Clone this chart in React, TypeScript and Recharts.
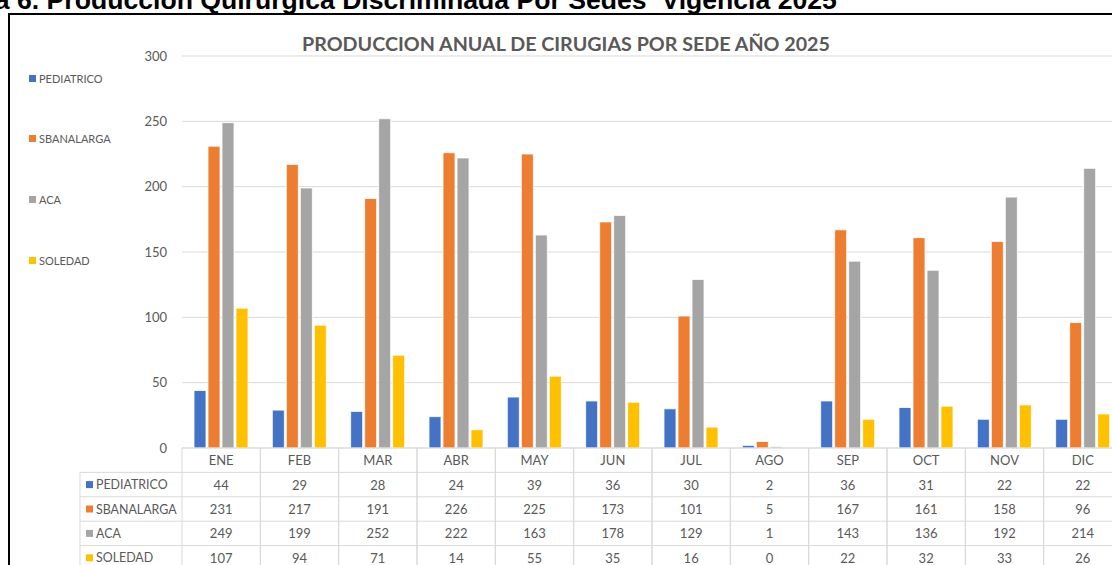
import React from "react";
import { BarChart, Bar, XAxis, YAxis, CartesianGrid } from "recharts";

const months = ["ENE", "FEB", "MAR", "ABR", "MAY", "JUN", "JUL", "AGO", "SEP", "OCT", "NOV", "DIC"];
const pediatrico = [44, 29, 28, 24, 39, 36, 30, 2, 36, 31, 22, 22];
const sbanalarga = [231, 217, 191, 226, 225, 173, 101, 5, 167, 161, 158, 96];
const aca = [249, 199, 252, 222, 163, 178, 129, 1, 143, 136, 192, 214];
const soledad = [107, 94, 71, 14, 55, 35, 16, 0, 22, 32, 33, 26];
const yTicks = [0, 50, 100, 150, 200, 250, 300];

const series = [
  { key: "PEDIATRICO", values: pediatrico, color: "#4472C4" },
  { key: "SBANALARGA", values: sbanalarga, color: "#ED7D31" },
  { key: "ACA", values: aca, color: "#A5A5A5" },
  { key: "SOLEDAD", values: soledad, color: "#FFC000" },
];

const data = months.map((mes, i) => {
  const row: Record<string, string | number> = { mes };
  series.forEach((s) => (row[s.key] = s.values[i]));
  return row;
});

const FONT = "Lato, 'Open Sans', sans-serif";
const TEXT = "#595959";
const LINE = "#d9d9d9";

// chart geometry
const W = 1200;
const H = 600;
const PLOT_LEFT = 182;
const PLOT_RIGHT = 1122;
const COL_W = (PLOT_RIGHT - PLOT_LEFT) / months.length;
const ROW_H = 24.4;
const HEAD_LEFT = 80;

function TableTick(props: any) {
  const { x, y, payload, index } = props;
  const left = x - COL_W / 2;
  const right = x + COL_W / 2;
  const bottom = y + ROW_H * 5;
  return (
    <g>
      <line x1={left} y1={y} x2={left} y2={bottom} stroke={LINE} />
      <line x1={right} y1={y} x2={right} y2={bottom} stroke={LINE} />
      {[1, 2, 3, 4, 5].map((r) => (
        <line key={r} x1={left} y1={y + ROW_H * r} x2={right} y2={y + ROW_H * r} stroke={LINE} />
      ))}
      <text x={x} y={y + ROW_H / 2} textAnchor="middle" dominantBaseline="central" fill={TEXT} fontSize={13} fontFamily={FONT}>
        {payload.value}
      </text>
      {series.map((s, r) => (
        <text key={s.key} x={x} y={y + ROW_H * (r + 1.5)} textAnchor="middle" dominantBaseline="central" fill={TEXT} fontSize={13} fontFamily={FONT}>
          {s.values[index]}
        </text>
      ))}
      {index === 0 && (
        <g>
          <line x1={HEAD_LEFT} y1={y + ROW_H} x2={HEAD_LEFT} y2={bottom} stroke={LINE} />
          {[1, 2, 3, 4, 5].map((r) => (
            <line key={r} x1={HEAD_LEFT} y1={y + ROW_H * r} x2={left} y2={y + ROW_H * r} stroke={LINE} />
          ))}
          {series.map((s, r) => (
            <g key={s.key}>
              <rect x={HEAD_LEFT + 6} y={y + ROW_H * (r + 1.5) - 3.5} width={7} height={7} fill={s.color} />
              <text x={HEAD_LEFT + 16} y={y + ROW_H * (r + 1.5)} dominantBaseline="central" fill={TEXT} fontSize={12.4} fontFamily={FONT}>
                {s.key}
              </text>
            </g>
          ))}
        </g>
      )}
    </g>
  );
}

function SideLegend() {
  return (
    <div style={{ position: "absolute", left: 29, top: 70, width: 120, height: 260 }}>
      {series.map((s, i) => (
        <div
          key={s.key}
          style={{
            position: "absolute",
            left: 0,
            top: i * 60.7,
            display: "flex",
            alignItems: "center",
            height: 16,
            fontFamily: FONT,
            fontSize: 11,
            color: TEXT,
            whiteSpace: "nowrap",
          }}
        >
          <span style={{ width: 7, height: 7, background: s.color, marginRight: 3 }} />
          {s.key}
        </div>
      ))}
    </div>
  );
}

export default function App() {
  return (
    <div style={{ position: "fixed", left: 0, top: 0, width: 1112, height: 565, overflow: "hidden", background: "#fff" }}>
      <div
        style={{
          position: "absolute",
          left: -82,
          top: -15,
          fontFamily: "'Liberation Sans', Arial, sans-serif",
          fontWeight: "bold",
          fontSize: 26.6,
          color: "#000",
          whiteSpace: "pre",
          lineHeight: "30px",
        }}
      >
        Gráfica 6. Producción Quirúrgica Discriminada Por Sedes  Vigencia 2025
      </div>
      <div style={{ position: "absolute", left: 8, top: 13, width: 1300, height: 700, border: "2px solid #000" }} />
      <div
        style={{
          position: "absolute",
          left: 0,
          width: 1132,
          top: 32,
          textAlign: "center",
          fontFamily: FONT,
          fontWeight: "bold",
          fontSize: 19.7,
          color: TEXT,
        }}
      >
        PRODUCCION ANUAL DE CIRUGIAS POR SEDE AÑO 2025
      </div>
      <SideLegend />
      <div style={{ position: "absolute", left: 0, top: 0 }}>
        <BarChart
          width={W}
          height={H}
          data={data}
          margin={{ top: 56, right: W - PLOT_RIGHT, left: 0, bottom: 37 }}
          barCategoryGap={12}
          barGap={2}
        >
          <CartesianGrid vertical={false} stroke={LINE} strokeWidth={1} />
          <YAxis
            width={PLOT_LEFT}
            domain={[0, 300]}
            ticks={yTicks}
            axisLine={false}
            tickLine={false}
            tickSize={0}
            tickMargin={15}
            tick={{ fill: TEXT, fontSize: 13, fontFamily: FONT }}
          />
          <XAxis
            dataKey="mes"
            height={115}
            interval={0}
            axisLine={{ stroke: LINE }}
            tickLine={false}
            tickSize={0}
            tickMargin={0}
            tick={<TableTick />}
          />
          {series.map((s) => (
            <Bar
              key={s.key}
              dataKey={s.key}
              fill={s.color}
              stroke="#ffffff"
              strokeWidth={0.8}
              isAnimationActive={false}
            />
          ))}
        </BarChart>
      </div>
    </div>
  );
}
